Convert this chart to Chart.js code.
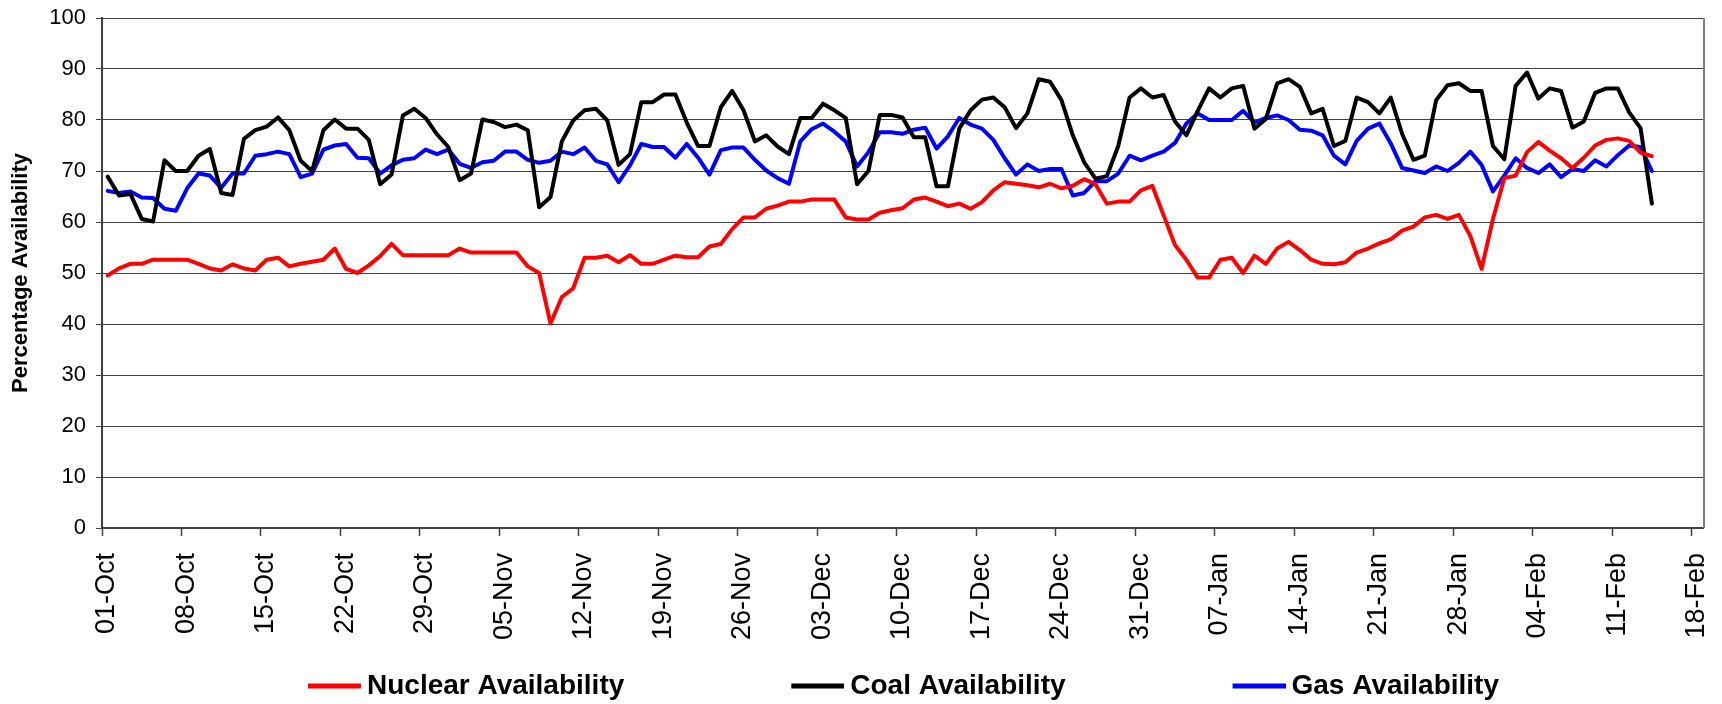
<!DOCTYPE html>
<html>
<head>
<meta charset="utf-8">
<script src="https://cdn.jsdelivr.net/npm/chart.js@4.4.1/dist/chart.umd.min.js"></script>
<style>
  html, body { margin: 0; padding: 0; background: #ffffff; }
  #wrap { width: 1722px; height: 704px; }
</style>
</head>
<body>
<div id="wrap"><canvas id="c" width="1722" height="704"></canvas></div>
<script>
// ---- Data (daily values, 01-Oct .. 14-Feb) ----
const tickLabels = ['01-Oct','08-Oct','15-Oct','22-Oct','29-Oct','05-Nov','12-Nov','19-Nov','26-Nov','03-Dec',
  '10-Dec','17-Dec','24-Dec','31-Dec','07-Jan','14-Jan','21-Jan','28-Jan','04-Feb','11-Feb','18-Feb'];

const nuclear = [49.5,50.9,51.8,51.8,52.6,52.6,52.6,52.6,51.8,50.9,50.5,51.7,50.9,50.5,52.6,53.0,51.3,51.8,52.2,52.6,
  54.8,50.8,50.0,51.5,53.3,55.7,53.5,53.5,53.5,53.5,53.5,54.8,54.0,54.0,54.0,54.0,54.0,51.3,50.0,40.1,
  45.3,47.0,53.0,53.0,53.4,52.1,53.5,51.8,51.8,52.6,53.4,53.1,53.1,55.2,55.7,58.6,60.9,60.9,62.6,63.2,
  64.0,64.0,64.4,64.4,64.4,60.9,60.5,60.5,61.8,62.3,62.7,64.4,64.8,64.0,63.1,63.6,62.6,63.9,66.2,67.8,
  67.5,67.2,66.8,67.5,66.6,67.1,68.4,67.4,63.6,64.0,64.0,66.2,67.1,61.3,55.5,52.6,49.1,49.1,52.6,53.0,
  50.0,53.4,51.8,54.8,56.1,54.5,52.6,51.8,51.7,52.1,54.0,54.8,55.8,56.6,58.3,59.1,60.9,61.4,60.6,61.4,
  57.3,50.8,60.6,68.6,69.1,73.7,75.7,74.0,72.5,70.6,72.6,75.0,76.1,76.4,75.9,73.6,72.9];

const coal = [68.9,65.2,65.5,60.6,60.1,72.1,70.0,70.0,73.0,74.3,65.7,65.3,76.3,78.0,78.7,80.5,78.0,72.0,70.0,78.0,
  80.1,78.3,78.3,76.1,67.4,69.3,80.9,82.2,80.4,77.2,74.7,68.2,69.5,80.1,79.6,78.6,79.1,78.0,62.9,64.9,
  75.8,79.9,81.9,82.2,79.9,71.2,73.3,83.5,83.5,85.0,85.0,79.5,74.9,74.9,82.5,85.7,81.9,75.8,77.0,74.8,
  73.3,80.4,80.4,83.2,81.9,80.4,67.4,70.0,81.0,81.0,80.5,76.6,76.6,67.0,67.0,78.3,81.9,84.0,84.4,82.5,
  78.4,81.3,88.0,87.5,83.9,77.0,71.7,68.5,69.0,74.9,84.4,86.2,84.4,84.9,79.7,77.0,81.8,86.2,84.4,86.2,
  86.7,78.3,80.2,87.2,88.0,86.5,81.3,82.2,74.9,75.9,84.4,83.5,81.3,84.4,77.3,72.2,73.0,83.9,86.8,87.2,
  85.7,85.7,74.9,72.3,86.7,89.3,84.2,86.2,85.7,78.5,79.7,85.3,86.2,86.2,81.5,78.4,63.6];

const gas = [66.1,65.7,66.0,64.8,64.7,62.6,62.2,66.6,69.5,69.1,66.7,69.5,69.5,73.0,73.3,73.8,73.3,68.8,69.5,74.2,
  75.0,75.3,72.6,72.5,69.5,71.1,72.2,72.5,74.2,73.3,74.2,71.4,70.6,71.7,72.0,73.8,73.8,72.2,71.6,72.0,
  73.8,73.3,74.6,72.0,71.3,67.8,71.1,75.3,74.7,74.7,72.6,75.3,72.6,69.3,74.1,74.6,74.6,72.2,70.1,68.6,
  67.5,75.8,78.2,79.3,77.7,75.8,70.9,73.7,77.6,77.6,77.3,78.1,78.5,74.4,76.8,80.4,79.1,78.3,76.1,72.5,
  69.3,71.3,70.0,70.4,70.4,65.2,65.7,68.0,68.0,69.5,73.0,72.1,73.0,73.8,75.5,79.3,81.3,80.0,80.0,80.0,
  81.8,79.5,80.4,80.9,80.0,78.1,77.9,77.0,73.0,71.3,75.9,78.3,79.3,75.4,70.6,70.1,69.6,70.9,70.0,71.6,
  73.8,71.2,66.0,69.1,72.5,70.6,69.6,71.3,68.8,70.4,70.0,72.1,70.9,73.1,75.0,74.7,70.0];

const seriesNames = ['Nuclear Availability', 'Coal Availability', 'Gas Availability'];
const seriesColors = ['#FF0000', '#000000', '#0000FF'];
const seriesValues = [nuclear, coal, gas];

const DAYS_ON_AXIS = 141;   // 01-Oct .. 18-Feb inclusive
const TICK_STEP = 7;

// ---- helpers ----
const FONT = "'Liberation Sans', Arial, Helvetica, sans-serif";
const X_FONT_SIZE = 27;
const X_LINE_HEIGHT = X_FONT_SIZE * 1.2;
const toPoints = arr => arr.map((v, i) => ({ x: i + 0.5, y: v }));  // each day centred in its slot

function legendLine(color) {
  const c = document.createElement('canvas');
  c.width = 165; c.height = 10;
  const g = c.getContext('2d');
  g.strokeStyle = color; g.lineWidth = 5;
  g.beginPath(); g.moveTo(112, 5); g.lineTo(165, 5); g.stroke();
  return c;
}

const plotBorder = {
  id: 'plotBorder',
  afterDraw(chart) {
    const { ctx, chartArea: a } = chart;
    ctx.save();
    ctx.strokeStyle = '#808080';
    ctx.lineWidth = 2;
    ctx.beginPath();
    ctx.moveTo(a.right + 1, a.top);
    ctx.lineTo(a.right + 1, a.bottom);
    ctx.stroke();
    ctx.restore();
  }
};

new Chart(document.getElementById('c'), {
  type: 'line',
  data: {
    datasets: seriesValues.map((vals, k) => ({
      label: seriesNames[k],
      data: toPoints(vals),
      borderColor: seriesColors[k],
      backgroundColor: seriesColors[k],
      borderWidth: 4,
      pointRadius: 0,
      tension: 0,
      borderJoinStyle: 'round',
      borderCapStyle: 'round',
      fill: false
    }))
  },
  plugins: [plotBorder],
  options: {
    responsive: false,
    animation: false,
    devicePixelRatio: 1,
    layout: { padding: { top: 18, right: 19, bottom: 0, left: 0 } },
    scales: {
      x: {
        type: 'linear',
        min: 0,
        max: DAYS_ON_AXIS,
        afterFit(s) { s.height = 81; s.paddingLeft = 0; s.paddingRight = 0; },
        border: { display: true, color: '#404040', width: 2 },
        grid: { display: true, drawOnChartArea: false, drawTicks: true, tickLength: 8, tickColor: '#404040', tickWidth: 1.5 },
        ticks: {
          stepSize: TICK_STEP,
          includeBounds: false,
          maxTicksLimit: 40,
          autoSkip: false,
          minRotation: 90,
          maxRotation: 90,
          mirror: true,          // avoids clipping of the long rotated labels
          padding: -25,
          labelOffset: 5 + X_LINE_HEIGHT,
          color: '#000000',
          font: { family: FONT, size: X_FONT_SIZE },
          callback: v => tickLabels[Math.round(v / TICK_STEP)] ?? ''
        }
      },
      y: {
        min: 0,
        max: 100,
        afterFit(s) { s.width = 102; s.paddingTop = 0; s.paddingBottom = 0; },
        border: { display: true, color: '#404040', width: 2 },
        grid: { color: '#404040', lineWidth: 1, tickLength: 6, tickColor: '#404040' },
        ticks: {
          stepSize: 10,
          padding: 10,
          color: '#000000',
          font: { family: FONT, size: 22 }
        },
        title: {
          display: true,
          text: 'Percentage Availability',
          color: '#000000',
          padding: { top: 8, bottom: 0 },
          font: { family: FONT, size: 22, weight: 'bold' }
        }
      }
    },
    plugins: {
      tooltip: { enabled: false },
      legend: {
        display: true,
        position: 'bottom',
        maxHeight: 95,
        labels: {
          usePointStyle: true,
          pointStyleWidth: 149,
          boxHeight: 28,
          padding: 63,
          color: '#000000',
          font: { family: FONT, size: 28, weight: 'bold' },
          generateLabels(chart) {
            const items = Chart.defaults.plugins.legend.labels.generateLabels(chart);
            items.forEach((it, k) => { it.pointStyle = legendLine(seriesColors[it.datasetIndex ?? k]); });
            return items;
          }
        }
      }
    }
  }
});
</script>
</body>
</html>
